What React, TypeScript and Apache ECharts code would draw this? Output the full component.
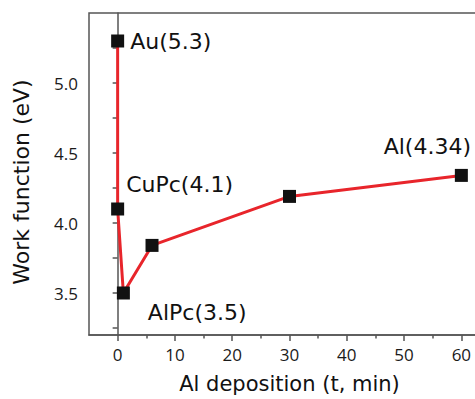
import React, { useEffect, useRef } from "react";
import * as echarts from "echarts";

const xValues = [0, 0, 1, 6, 30, 60];
const yValues = [5.3, 4.1, 3.5, 3.84, 4.19, 4.34];
const pointLabels = ["Au(5.3)", "CuPc(4.1)", "AlPc(3.5)", "", "", "Al(4.34)"];
const xMajorTicks = [0, 10, 20, 30, 40, 50, 60];
const xMinorTicks = [5, 15, 25, 35, 45, 55];
const yMajorTicks = [3.5, 4.0, 4.5, 5.0];
const yAllTicks = [3.25, 3.5, 3.75, 4.0, 4.25, 4.5, 4.75, 5.0, 5.25];

const labelStyles: any[] = [
  { position: "right", distance: 6, offset: [0, 0] },
  { position: "right", distance: 5, offset: [-3, -25] },
  { position: "right", distance: 5, offset: [13, 19] },
  { show: false },
  { show: false },
  { position: "top", distance: 5, offset: [-34, -6] },
];

export default function App() {
  const ref = useRef<HTMLDivElement>(null);
  useEffect(() => {
    document.body.style.margin = "0";
    const chart = echarts.init(ref.current!, undefined, { renderer: "svg" });
    const axisColor = "#555";
    const tickFont = { fontFamily: "Open Sans", fontSize: 17, color: "#1a1a1a" };
    const textFont = "DejaVu Sans";
    chart.setOption({
      animation: false,
      backgroundColor: "#fff",
      grid: {
        left: 89,
        top: 13,
        right: -15,
        bottom: 64,
        outerBoundsMode: "none",
        containLabel: false,
        show: true,
        borderColor: axisColor,
        borderWidth: 1.5,
      },
      xAxis: [
        {
          type: "value",
          min: -5,
          max: 65,
          position: "bottom",
          name: "Al deposition (t, min)",
          nameLocation: "middle",
          nameGap: 38,
          nameTextStyle: { fontFamily: textFont, fontSize: 21, color: "#111" },
          axisLine: { show: true, lineStyle: { color: axisColor, width: 1.5 } },
          axisTick: { show: true, customValues: xMajorTicks, length: 6, lineStyle: { color: axisColor, width: 1.5 } },
          axisLabel: { customValues: xMajorTicks, margin: 11, ...tickFont },
          splitLine: { show: false },
        },
        {
          type: "value",
          min: -5,
          max: 65,
          position: "bottom",
          axisLine: { show: false },
          axisTick: { show: true, customValues: xMinorTicks, length: 3.5, lineStyle: { color: axisColor, width: 1.5 } },
          axisLabel: { show: false },
          splitLine: { show: false },
        },
      ],
      yAxis: {
        type: "value",
        min: 3.2,
        max: 5.5,
        axisLine: { show: true, lineStyle: { color: axisColor, width: 1.5 } },
        axisTick: { show: true, customValues: yAllTicks, length: 5, lineStyle: { color: axisColor, width: 1.5 } },
        axisLabel: {
          customValues: yMajorTicks,
          margin: 11,
          formatter: (v: number) => v.toFixed(1),
          ...tickFont,
        },
        splitLine: { show: false },
      },
      graphic: [
        {
          type: "text",
          x: 21,
          y: 182,
          rotation: Math.PI / 2,
          style: {
            text: "Work function (eV)",
            fontFamily: textFont,
            fontSize: 22,
            fill: "#111",
            align: "center",
            verticalAlign: "middle",
          },
        },
      ],
      series: [
        {
          type: "line",
          xAxisIndex: 0,
          data: xValues.map((x, i) => ({
            value: [x, yValues[i]],
            label: { show: true, formatter: pointLabels[i], ...labelStyles[i] },
          })),
          symbol: "rect",
          symbolSize: 13,
          itemStyle: { color: "#111" },
          lineStyle: { color: "#e8252b", width: 3 },
          label: {
            fontFamily: textFont,
            fontSize: 22,
            color: "#111",
          },
          z: 3,
        },
      ],
    });
    return () => chart.dispose();
  }, []);
  return <div ref={ref} style={{ width: 475, height: 399 }} />;
}
